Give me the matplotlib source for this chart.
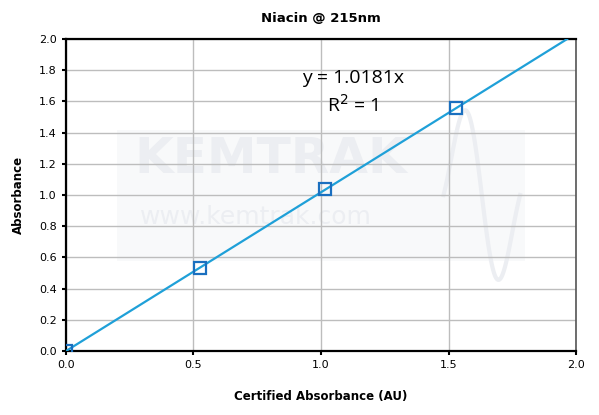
import matplotlib.pyplot as plt
import numpy as np

# certified vs measured absorbance
certified = [0.0, 0.525, 1.016, 1.529]
measured = [0.0, 0.532, 1.038, 1.558]
slope = 1.0181

fig = plt.figure(figsize=(5.99, 4.15), dpi=100)
ax = fig.add_axes([0.110, 0.154, 0.852, 0.752])

# faint watermark
wm = '#eceef2'
ax.add_patch(plt.Rectangle((0.10, 0.29), 0.80, 0.42, transform=ax.transAxes,
                           color='#f8f9fa', zorder=0, lw=0))
ax.text(0.135, 0.615, 'KEMTRAK', transform=ax.transAxes, fontsize=36, fontweight='bold',
        color=wm, va='center', ha='left', zorder=0)
ax.text(0.145, 0.43, 'www.kemtrak.com', transform=ax.transAxes, fontsize=18,
        color=wm, va='center', ha='left', zorder=0)
wx = np.linspace(0.0, 1.0, 100)
ax.plot(0.74 + 0.15 * wx, 0.5 + 0.32 * np.sin(wx * 2 * np.pi) * np.exp(-((wx - 0.5) ** 2) * 3),
        transform=ax.transAxes, color=wm, lw=3, zorder=0)

xfit = np.array([0.0, 2.0 / slope])
ax.plot(xfit, slope * xfit, color='#1fa0d8', lw=1.6, zorder=3)
ax.plot(certified, measured, 's', ms=9, mfc='none', mec='#1a6fbf', mew=1.6, zorder=4)

ax.text(1.125, 1.75, 'y = 1.0181x', fontsize=14, ha='center', va='center', family='Open Sans')
ax.text(1.125, 1.58, 'R$^2$ = 1', fontsize=14, ha='center', va='center', family='Open Sans')

ax.set_xlim(0, 2.0)
ax.set_ylim(0, 2.0)
ax.set_xticks(np.arange(0, 2.01, 0.5))
ax.set_yticks(np.arange(0, 2.01, 0.2))
ax.xaxis.set_major_formatter(plt.FormatStrFormatter('%.1f'))
ax.yaxis.set_major_formatter(plt.FormatStrFormatter('%.1f'))
ax.grid(True, color='#bdbdbd', lw=1)
ax.set_axisbelow(True)
for s in ['left', 'bottom', 'top']:
    ax.spines[s].set_linewidth(1.6)
    ax.spines[s].set_color('black')
ax.spines['right'].set_color('#555555')
ax.spines['right'].set_linewidth(1.2)
ax.tick_params(labelsize=8, length=3, width=1.5, direction='out')

ax.set_title('Niacin @ 215nm', fontsize=9.5, fontweight='bold', pad=12)
ax.set_xlabel('Certified Absorbance (AU)', fontsize=8.5, fontweight='bold', labelpad=14)
ax.set_ylabel('Absorbance', fontsize=8.5, fontweight='bold', labelpad=10)

fig.savefig('out.png', dpi=100)
